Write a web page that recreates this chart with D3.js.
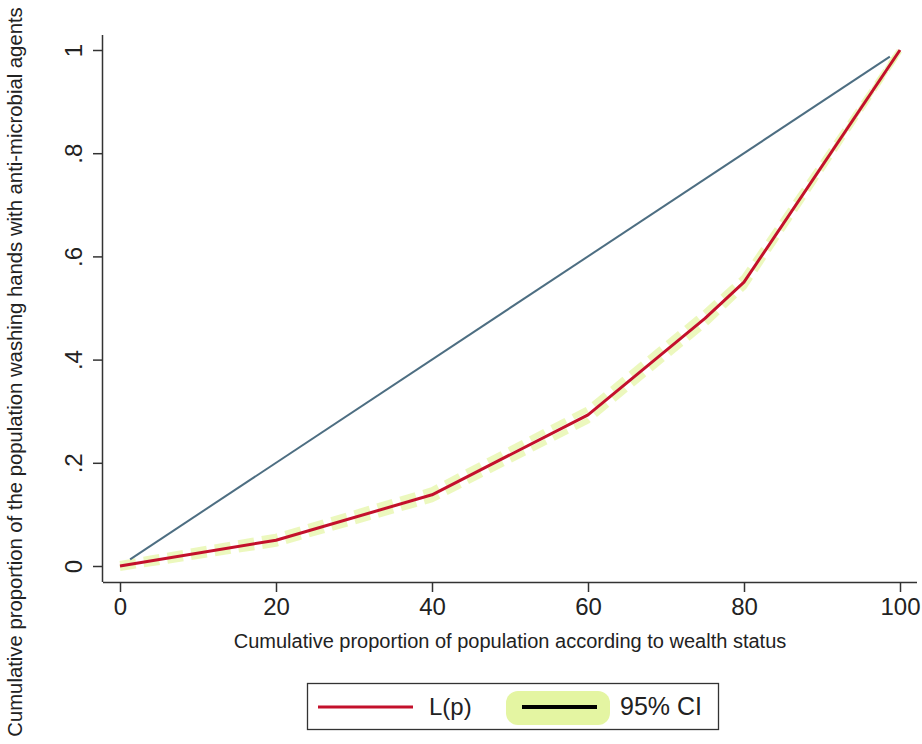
<!DOCTYPE html>
<html><head><meta charset="utf-8">
<script src="https://cdn.jsdelivr.net/npm/d3@7"></script>
<style>body{margin:0;background:#fff}svg{display:block;font-family:"Liberation Sans",Arial,sans-serif}</style>
</head><body><svg id="c" width="922" height="744"></svg>
<script>
const pop = [0, 20, 40, 60, 75, 80, 100];
const lorenz = [0, 0.05, 0.138, 0.293, 0.48, 0.55, 1.0];
const ciUpper = [0.004, 0.057, 0.147, 0.304, 0.491, 0.559, 1.0];
const ciLower = [-0.004, 0.043, 0.129, 0.282, 0.469, 0.541, 1.0];
const equalX = [1.3, 98.7];
const equalY = [0.013, 0.987];
const xTicks = [0, 20, 40, 60, 80, 100];
const yTicks = [0, 0.2, 0.4, 0.6, 0.8, 1];
const yTickLabels = ["0", ".2", ".4", ".6", ".8", "1"];
const legendLabels = ["L(p)", "95% CI"];

const svg = d3.select("#c");
const x = d3.scaleLinear().domain([0, 100]).range([120, 900]);
const y = d3.scaleLinear().domain([0, 1]).range([566, 50]);
const redC = "#c3102b", blueC = "#4d6e82", limeC = "#e4f5a2";
const ff = "Liberation Sans, Arial, sans-serif";

// axes
const xAxis = svg.append("g").attr("transform", "translate(0,582)")
  .call(d3.axisBottom(x).tickValues(xTicks).tickSize(10).tickPadding(6).tickSizeOuter(0));
xAxis.select(".domain").attr("d", "M103,0.5H917").attr("stroke", "#333").attr("stroke-width", 1.5);
xAxis.selectAll(".tick line").attr("stroke", "#333").attr("stroke-width", 1.5);
xAxis.selectAll(".tick text").attr("font-size", 24).attr("fill", "#222").attr("font-family", ff);

const yAxis = svg.append("g").attr("transform", "translate(103,0)")
  .call(d3.axisLeft(y).tickValues(yTicks).tickFormat((d, i) => yTickLabels[i]).tickSize(10).tickPadding(6).tickSizeOuter(0));
yAxis.select(".domain").attr("d", "M-0.5,582V35").attr("stroke", "#333").attr("stroke-width", 1.5);
yAxis.selectAll(".tick line").attr("stroke", "#333").attr("stroke-width", 1.5);
yAxis.selectAll(".tick text").attr("font-size", 24).attr("fill", "#222")
  .attr("font-family", ff)
  .attr("text-anchor", "middle").attr("dy", null)
  .attr("transform", "translate(-30,0) rotate(-90)").attr("x", 0).attr("y", 0).attr("dominant-baseline", "central");

// titles
svg.append("text").attr("x", 510).attr("y", 648).attr("text-anchor", "middle")
  .attr("font-size", 20).attr("fill", "#222").attr("font-family", ff)
  .text("Cumulative proportion of population according to wealth status");
svg.append("text").attr("transform", "translate(22,372) rotate(-90)").attr("text-anchor", "middle")
  .attr("font-size", 20.3).attr("fill", "#222").attr("font-family", ff)
  .text("Cumulative proportion of the population washing hands with anti-microbial agents");

// CI bands
const ln = d3.line().x(d => x(d[0])).y(d => y(d[1]));
[ciUpper, ciLower].forEach(ci => {
  svg.append("path").datum(pop.map((p, i) => [p, ci[i]])).attr("d", ln)
    .attr("fill", "none").attr("stroke", limeC).attr("stroke-width", 6)
    .attr("stroke-dasharray", "16,8").attr("stroke-opacity", 0.7).attr("stroke-linejoin", "round");
});

// equality line
svg.append("path").datum(equalX.map((v, i) => [v, equalY[i]])).attr("d", ln)
  .attr("fill", "none").attr("stroke", blueC).attr("stroke-width", 2);

// lorenz curve
svg.append("path").datum(pop.map((p, i) => [p, lorenz[i]])).attr("d", ln)
  .attr("fill", "none").attr("stroke", redC).attr("stroke-width", 3).attr("stroke-linejoin", "round");

// legend
const lg = svg.append("g");
lg.append("rect").attr("x", 307.5).attr("y", 683.5).attr("width", 411).attr("height", 46)
  .attr("fill", "#fff").attr("stroke", "#333").attr("stroke-width", 1.3);
lg.append("line").attr("x1", 318).attr("x2", 413).attr("y1", 707).attr("y2", 707)
  .attr("stroke", redC).attr("stroke-width", 3);
lg.append("text").attr("x", 429).attr("y", 715).attr("font-size", 24).attr("fill", "#222").attr("font-family", ff).text(legendLabels[0]);
lg.append("rect").attr("x", 506).attr("y", 691).attr("width", 104).attr("height", 34).attr("rx", 12)
  .attr("fill", limeC);
lg.append("line").attr("x1", 522).attr("x2", 597).attr("y1", 707).attr("y2", 707)
  .attr("stroke", "#000").attr("stroke-width", 4);
lg.append("text").attr("x", 620).attr("y", 715).attr("font-size", 25).attr("fill", "#222").attr("font-family", ff).text(legendLabels[1]);
</script></body></html>
